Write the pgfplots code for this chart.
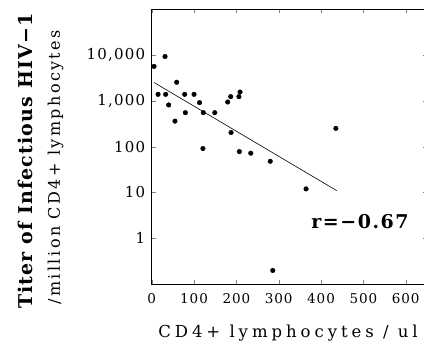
\documentclass[border=0pt]{standalone}
\usepackage{fontspec}
\setmainfont{DejaVu Serif}
\usepackage{pgfplots}
\pgfplotsset{compat=1.18}
\begin{document}
\begin{tikzpicture}
\useasboundingbox (-151.7pt,-62.7pt) rectangle (272.3pt,284.3pt);
\begin{axis}[
  at={(0pt,0pt)}, anchor=south west,
  scale only axis, width=275.2pt, height=275.3pt,
  xmin=0, xmax=650, ymode=log, ymin=0.1, ymax=1e5,
  xtick={0,100,200,300,400,500,600},
  ytick={1,10,100,1000,10000},
  yticklabels={1,10,100,{1,000},{10,000}},
  tick align=inside, xtick pos=both, ytick pos=both,
  yminorticks=false, xminorticks=false,
  major tick length=4pt,
  /pgf/number format/assume math mode=true,
  xticklabel style={font=\fontsize{13.5}{16}\selectfont\addfontfeatures{LetterSpace=7}, yshift=-6pt},
  yticklabel style={font=\fontsize{15}{18}\selectfont\addfontfeatures{LetterSpace=8}, xshift=-3pt},
  axis line style={line width=0.9pt},
  clip=false,
]
\addplot[only marks, mark=*, mark size=2.3pt, black] coordinates {
(5.5,5600) (15,1380) (31.5,9200) (33,1380) (40,810) (59,2530) (55,360)
(78,1380) (79.5,550) (100,1380) (113,910) (122,550) (121,91) (149,550)
(179.5,940) (186.6,1230) (187.4,203) (206,1230) (208.7,1550) (207,78)
(234,72) (280,48) (286,0.2) (364.6,12) (435,250)
};
\addplot[black, line width=0.6pt, no marks] coordinates {(5.5,2500) (437,11)};
\node[font=\bfseries\fontsize{19}{22}\selectfont\addfontfeatures{LetterSpace=8}] at (axis cs:492,2.3) {r=−0.67};
\end{axis}
\node[rotate=90, font=\bfseries\fontsize{19}{22}\selectfont\addfontfeatures{LetterSpace=6}] at (-126.5pt,123pt) {Titer of Infectious HIV−1};
\node[rotate=90, font=\fontsize{16}{19}\selectfont\addfontfeatures{LetterSpace=15}] at (-96pt,117pt) {/million CD4+ lymphocytes};
\node[font=\fontsize{16.5}{20}\selectfont\addfontfeatures{LetterSpace=24}] at (136.3pt,-49pt) {CD4+ lymphocytes / ul};
\end{tikzpicture}
\end{document}
